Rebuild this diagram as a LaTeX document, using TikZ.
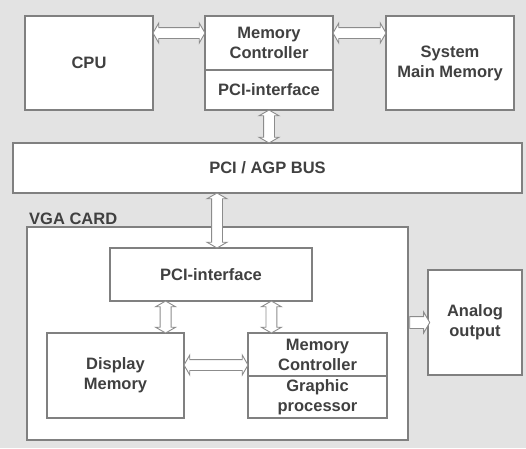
\documentclass[tikz,border=0pt]{standalone}
\usepackage{fontspec}
\setmainfont{Liberation Sans}
\usetikzlibrary{shapes.arrows}

\begin{document}
\begin{tikzpicture}[x=1pt,y=-1pt,
  box/.style={draw=black!50,fill=white,line width=1.2pt,inner sep=0pt,align=center,
    font=\fontsize{16.5}{20}\selectfont\bfseries,text=black!75},
  darr/.style={double arrow,draw=black!45,fill=white,line width=0.9pt,inner sep=5pt,
    double arrow head extend=4.5pt,double arrow tip angle=120,sloped},
  sarr/.style={single arrow,draw=black!45,fill=white,line width=0.9pt,inner sep=5.5pt,
    single arrow head extend=4.5pt,single arrow tip angle=120,sloped}]
\fill[black!11] (0,0) rectangle (526,448);
\useasboundingbox (0,0) rectangle (526,448);
\node [box,minimum width=128pt,minimum height=94pt] (cpu) at (89,63) {CPU};
\node [box,minimum width=128pt,minimum height=54pt] (mc) at (269,43) {Memory\\Controller};
\node [box,minimum width=128pt,minimum height=40pt] (mcpci) at (269,90) {PCI-interface};
\node [box,minimum width=128pt,minimum height=94pt] (smm) at (450,63) {System\\Main Memory};
\node [box,minimum width=509pt,minimum height=50pt] (bus) at (267.5,168) {PCI / AGP BUS};
\node [box,minimum width=381pt,minimum height=213pt] (vga) at (217.5,333.5) {};
\node [font=\fontsize{16.5}{20}\selectfont\bfseries,text=black!75,inner sep=0pt,anchor=base west]
  (vgalabel) at (29,224) {VGA CARD};
\node [box,minimum width=202pt,minimum height=53pt] (pci) at (211,274.5) {PCI-interface};
\node [box,minimum width=137pt,minimum height=85pt] (dm) at (115.5,375.5) {Display\\Memory};
\node [box,minimum width=139pt,minimum height=43pt] (gp) at (317.5,354.5) {Memory\\Controller};
\node [box,minimum width=139pt,minimum height=42pt] (gpu) at (317.5,397) {Graphic\\processor};
\node [box,minimum width=94pt,minimum height=105pt] (ao) at (475,322.5) {Analog\\output};
\path (cpu.east |- 0,33) -- (mc.west |- 0,33) node [midway,darr,minimum height=52pt] {};
\path (mc.east |- 0,33) -- (smm.west |- 0,33) node [midway,darr,minimum height=53pt] {};
\path (mcpci.south) -- (mcpci.south |- bus.north) node [midway,darr,minimum height=33pt] {};
\path ([xshift=6pt]pci.north |- bus.south) -- ([xshift=6pt]pci.north) node [midway,darr,minimum height=55pt] {};
\path ([xshift=-19pt]dm.north east |- pci.south) -- ([xshift=-19pt]dm.north east) node [midway,darr,minimum height=32pt] {};
\path ([xshift=24pt]gp.north west |- pci.south) -- ([xshift=24pt]gp.north west) node [midway,darr,minimum height=32pt] {};
\path (dm.east |- 0,365) -- (gp.west |- 0,365) node [midway,darr,minimum height=64pt] {};
\path (vga.east |- ao.west) -- (ao.west) node [midway,sarr,minimum height=20pt] {};
\end{tikzpicture}
\end{document}
